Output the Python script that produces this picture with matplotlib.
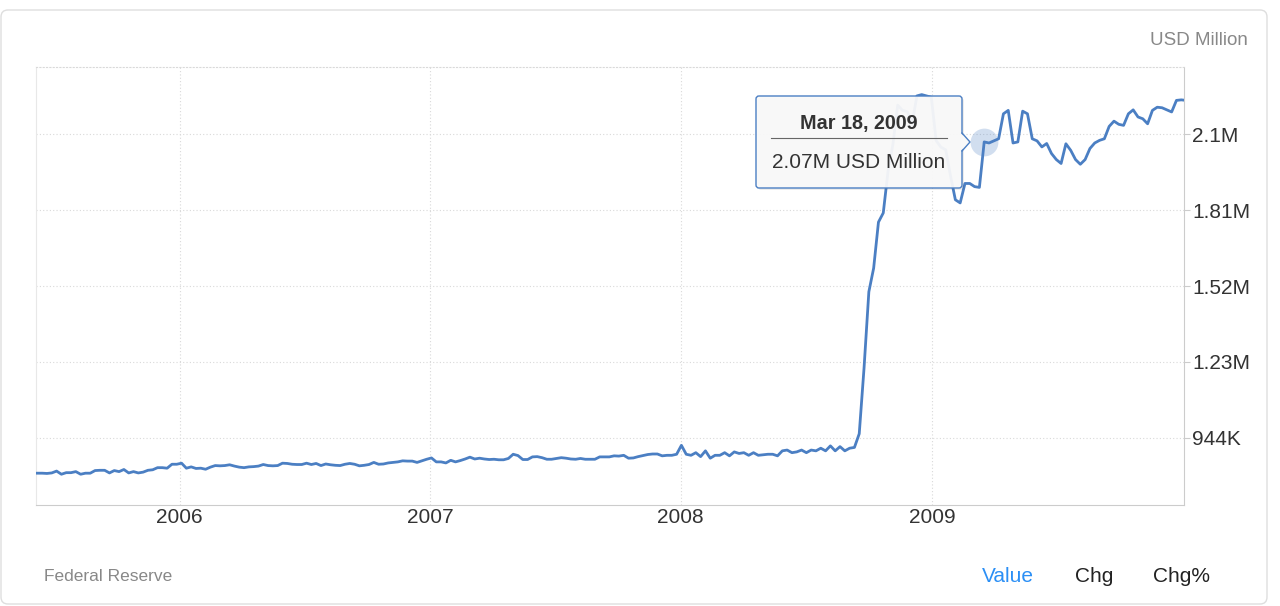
import numpy as np
import pandas as pd
import matplotlib
matplotlib.use('Agg')
import matplotlib.pyplot as plt
from matplotlib.patches import FancyBboxPatch, Polygon
from matplotlib.lines import Line2D
from matplotlib.transforms import IdentityTransform

plt.rcParams['font.family'] = ['Liberation Sans', 'DejaVu Sans']

# weekly Fed balance sheet, thousands of "USD Million"
start = '2005-06-08'
vals = [
    810, 810, 809, 811, 818, 806, 812, 812, 816, 806,
    810, 810, 820, 821, 821, 811, 820, 816, 824, 811,
    816, 811, 814, 821, 823, 831, 831, 829, 844, 844,
    848, 829, 834, 828, 829, 825, 833, 839, 838, 839,
    842, 837, 833, 831, 834, 835, 837, 843, 839, 838,
    839, 848, 847, 844, 843, 843, 848, 843, 847, 839,
    845, 842, 840, 839, 844, 847, 844, 838, 840, 843,
    851, 844, 845, 849, 851, 853, 857, 856, 856, 851,
    857, 863, 868, 853, 853, 849, 859, 853, 858, 864,
    871, 864, 867, 864, 862, 863, 861, 861, 866, 882,
    877, 862, 862, 872, 873, 869, 863, 863, 866, 869,
    867, 864, 863, 866, 863, 863, 863, 872, 872, 872,
    876, 875, 878, 867, 868, 873, 877, 881, 883, 883,
    876, 878, 878, 882, 916, 882, 878, 888, 873, 895,
    867, 878, 878, 888, 876, 891, 885, 888, 878, 888,
    878, 880, 882, 882, 876, 895, 898, 888, 891, 898,
    888, 898, 895, 905, 895, 914, 895, 911, 895, 905,
    908, 960, 1210, 1500, 1590, 1765, 1800, 1960, 2060, 2210,
    2190, 2185, 2140, 2245, 2250, 2245, 2240, 2075, 2050, 2040,
    1940, 1850, 1838, 1912, 1912, 1900, 1897, 2070, 2066, 2074,
    2082, 2177, 2190, 2066, 2070, 2187, 2177, 2082, 2074, 2051,
    2064, 2026, 2003, 1988, 2063, 2038, 2003, 1985, 2003, 2045,
    2066, 2076, 2082, 2129, 2149, 2137, 2133, 2177, 2192, 2165,
    2158, 2139, 2190, 2202, 2200, 2192, 2184, 2228, 2230, 2228,
]
dates = pd.date_range(start, periods=len(vals), freq='7D')
years = [2006, 2007, 2008, 2009]
ytick_vals = [944, 1233, 1522, 1811, 2100]
ytick_labels = ['944K', '1.23M', '1.52M', '1.81M', '2.1M']
tip_date = pd.Timestamp('2009-03-18')
tip_val = vals[dates.get_loc(tip_date)]

LINE = '#4b7fc3'
W, H = 1280, 606
fig = plt.figure(figsize=(W / 100, H / 100), dpi=100)
px = IdentityTransform()

# outer card
fig.add_artist(FancyBboxPatch((1, H - 604), 1266, 594, boxstyle='round,pad=0,rounding_size=7',
                              transform=px, fc='white', ec='#dedede', lw=1, zorder=-5))

ax = fig.add_axes([36 / W, 1 - 505 / H, (1184 - 36) / W, (505 - 67) / H])
ax.set_facecolor('none')
ax.plot(dates, vals, color=LINE, lw=2.0, solid_joinstyle='round', zorder=3)
ax.plot([tip_date], [tip_val], 'o', ms=20, color=LINE, alpha=0.25, mec='none', zorder=4)

ax.set_xlim(pd.Timestamp('2005-06-06'), pd.Timestamp('2010-01-03'))
ax.set_ylim(689, 2355)
ax.set_xticks([pd.Timestamp(f'{y}-01-01') for y in years])
ax.set_xticklabels([str(y) for y in years])
ax.yaxis.tick_right()
ax.set_yticks(ytick_vals)
ax.set_yticklabels(ytick_labels)
ax.tick_params(axis='x', length=0, pad=2.5, labelsize=15, labelcolor='#333333')
ax.tick_params(axis='y', length=4.3, width=0.8, color='#cccccc', pad=1.6, labelsize=15, labelcolor='#333333')
ax.grid(True, color='#d9d9d9', lw=0.8, ls=(0, (1, 2)))
for s in ['right', 'bottom']:
    ax.spines[s].set_color('#cccccc'); ax.spines[s].set_linewidth(0.8)
ax.spines['left'].set_color('#e8e8e8'); ax.spines['left'].set_linewidth(0.8)
ax.spines['top'].set_color('#d9d9d9'); ax.spines['top'].set_linewidth(0.8)
ax.spines['top'].set_linestyle((0, (1, 2)))

# tooltip
bx0, by0, bx1, by1 = 756, 96, 962, 188
fig.add_artist(FancyBboxPatch((bx0 + 2, H - by1 - 2), bx1 - bx0, by1 - by0, boxstyle='round,pad=0,rounding_size=3',
                              transform=px, fc=(0, 0, 0, 0.07), ec='none', zorder=8))
fig.add_artist(FancyBboxPatch((bx0, H - by1), bx1 - bx0, by1 - by0, boxstyle='round,pad=0,rounding_size=3',
                              transform=px, fc=(0.975, 0.975, 0.975, 0.95), ec=LINE, lw=1, zorder=9))
fig.add_artist(Polygon([(bx1 - 1.5, H - 133), (970, H - 142), (bx1 - 1.5, H - 151)], closed=True,
                       transform=px, fc=(0.975, 0.975, 0.975), ec='none', zorder=10))
fig.add_artist(Line2D([bx1, 970, bx1], [H - 133, H - 142, H - 151], transform=px, color=LINE, lw=1, zorder=11))
fig.add_artist(Line2D([771, 947], [H - 138, H - 138], transform=px, color='#666666', lw=0.8, zorder=11))
fig.text(859, H - 128.5, f'{tip_date:%b} {tip_date.day}, {tip_date.year}', transform=px, ha='center',
         va='baseline', fontsize=14.2, weight='bold', color='#333333', zorder=12)
fig.text(859, H - 167.5, f'{tip_val / 1000:.2f}M USD Million', transform=px, ha='center',
         va='baseline', fontsize=15, color='#333333', zorder=12)

# header / footer texts
fig.text(1248, H - 45, 'USD Million', transform=px, ha='right', va='baseline', fontsize=13.5, color='#888888')
fig.text(44, H - 581, 'Federal Reserve', transform=px, ha='left', va='baseline', fontsize=12.5, color='#888888')
fig.text(1008, H - 582, 'Value', transform=px, ha='center', va='baseline', fontsize=15, color='#2b8ff5')
fig.text(1094, H - 582, 'Chg', transform=px, ha='center', va='baseline', fontsize=15, color='#222222')
fig.text(1181, H - 582, 'Chg%', transform=px, ha='center', va='baseline', fontsize=15, color='#222222')

fig.savefig('out.png', dpi=100)
